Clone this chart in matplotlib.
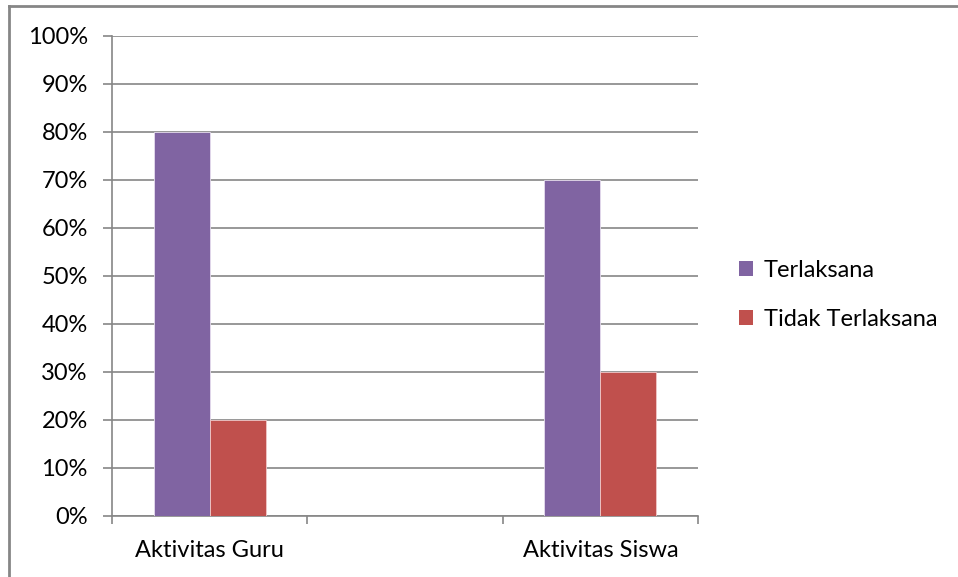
import matplotlib
matplotlib.use("Agg")
import matplotlib.pyplot as plt
from matplotlib.lines import Line2D
from matplotlib.patches import Patch
import numpy as np

categories = ["Aktivitas Guru", "", "Aktivitas Siswa"]
terlaksana = [80, None, 70]
tidak_terlaksana = [20, None, 30]
series_names = ["Terlaksana", "Tidak Terlaksana"]
y_ticks = [0, 10, 20, 30, 40, 50, 60, 70, 80, 90, 100]

PURPLE = "#8064A2"
RED = "#C0504D"
GRID = "#868686"
FS = 17

plt.rcParams["font.family"] = ["Lato", "DejaVu Sans"]

W, H = 958, 577
fig = plt.figure(figsize=(W / 100, H / 100), dpi=100)

# outer chart-area frame (top and left edges)
fig.add_artist(Line2D([9 / W, 1.0], [1 - 6 / H, 1 - 6 / H], transform=fig.transFigure,
                      color=GRID, lw=2))
fig.add_artist(Line2D([9 / W, 9 / W], [0, 1 - 6 / H], transform=fig.transFigure,
                      color=GRID, lw=2))

ax = fig.add_axes([112 / W, 61 / H, (698 - 112) / W, 480 / H])

n = len(categories)
x = np.arange(n)
bw = 56 / 195.3

for i in range(n):
    if terlaksana[i] is not None:
        ax.bar(x[i] - bw / 2, terlaksana[i], width=bw, color=PURPLE,
               edgecolor="#E6DDEE", linewidth=0.6, zorder=3)
    if tidak_terlaksana[i] is not None:
        ax.bar(x[i] + bw / 2, tidak_terlaksana[i], width=bw, color=RED,
               edgecolor="#F0C8C8", linewidth=0.6, zorder=3)

ax.set_xlim(-0.5, n - 0.5)
ax.set_ylim(0, 100)
ax.set_yticks(y_ticks)
ax.set_yticklabels([f"{v}%" for v in y_ticks])
ax.yaxis.grid(True, color=GRID, lw=1.2, zorder=0)
ax.set_axisbelow(True)

ax.set_xticks(x)
ax.set_xticklabels(categories)
ax.set_xticks(np.arange(-0.5, n, 1.0), minor=True)
ax.tick_params(axis="x", which="major", length=0, pad=17, labelsize=FS)
ax.tick_params(axis="x", which="minor", length=6, color=GRID, width=1.2)
ax.tick_params(axis="y", length=6.5, color=GRID, width=1.2, pad=11, labelsize=FS)

for s in ["top", "right"]:
    ax.spines[s].set_visible(False)
for s in ["left", "bottom"]:
    ax.spines[s].set_color(GRID)
    ax.spines[s].set_linewidth(1.2)

handles = [Patch(facecolor=PURPLE, edgecolor="none"),
           Patch(facecolor=RED, edgecolor="none")]
fig.legend(handles, series_names, loc="center left",
           bbox_to_anchor=(727 / W, 1 - 295 / H), frameon=False,
           fontsize=FS, handlelength=0.6, handleheight=0.6,
           handletextpad=0.45, labelspacing=1.2, borderpad=0)

fig.savefig("out.png", dpi=100)
